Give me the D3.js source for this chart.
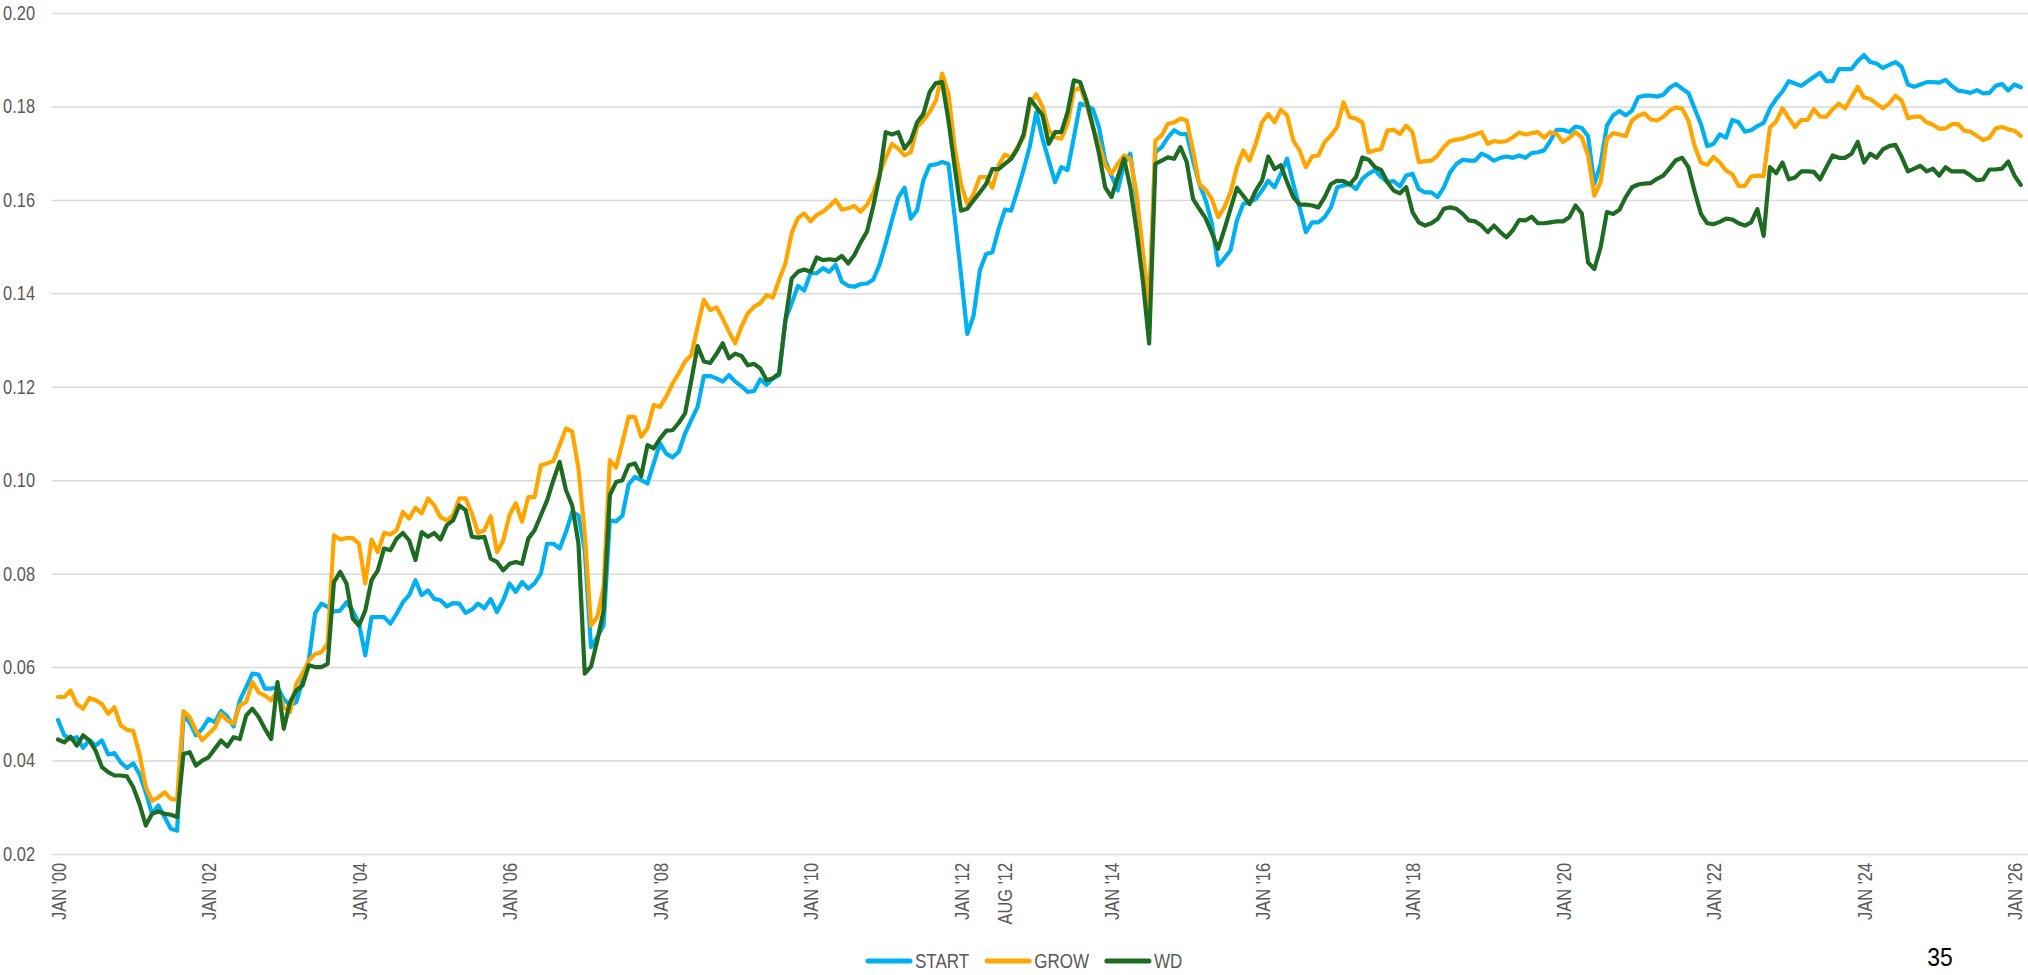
<!DOCTYPE html>
<html>
<head>
<meta charset="utf-8">
<script src="https://cdn.jsdelivr.net/npm/d3@7"></script>
<style>
  body { margin: 0; background: #fff; }
  svg text { font-family: "Liberation Sans Narrow", "Arial Narrow", "Liberation Sans", sans-serif; }
  .grid line { stroke: #d9d9d9; stroke-width: 1.5; }
  .grid .domain { display: none; }
  .xaxis .domain { display: none; }
  .series { fill: none; stroke-width: 4.2; stroke-linejoin: round; stroke-linecap: round; }
</style>
</head>
<body>
<script>

// monthly values, JAN 2000 .. FEB 2026 (one row per year)
var startValues = [
  0.0487,0.0454,0.0446,0.0450,0.0427,0.0444,0.0432,0.0443,0.0413,0.0416,0.0396,0.0384,
  0.0394,0.0371,0.0332,0.0286,0.0304,0.0279,0.0254,0.0250,0.0496,0.0482,0.0454,0.0468,
  0.0489,0.0482,0.0506,0.0494,0.0473,0.0529,0.0557,0.0586,0.0584,0.0554,0.0554,0.0557,
  0.0532,0.0518,0.0525,0.0571,0.0615,0.0715,0.0736,0.0729,0.0719,0.0721,0.0739,0.0721,
  0.0693,0.0625,0.0707,0.0707,0.0707,0.0693,0.0714,0.0739,0.0754,0.0786,0.0754,0.0764,
  0.0746,0.0743,0.0730,0.0737,0.0736,0.0716,0.0723,0.0736,0.0726,0.0746,0.0718,0.0743,
  0.0779,0.0761,0.0782,0.0768,0.0779,0.0800,0.0864,0.0864,0.0854,0.0889,0.0932,0.0925,
  0.0850,0.0643,0.0664,0.0689,0.0914,0.0912,0.0924,0.0991,0.1007,0.1000,0.0993,0.1036,
  0.1079,0.1057,0.1049,0.1061,0.1100,0.1129,0.1157,0.1223,0.1223,0.1218,0.1211,0.1225,
  0.1211,0.1201,0.1189,0.1191,0.1216,0.1204,0.1218,0.1225,0.1343,0.1379,0.1416,0.1406,
  0.1443,0.1443,0.1454,0.1446,0.1461,0.1425,0.1416,0.1414,0.1420,0.1421,0.1429,0.1461,
  0.1507,0.1557,0.1605,0.1626,0.1560,0.1578,0.1642,0.1674,0.1676,0.1681,0.1677,0.1563,
  0.1441,0.1313,0.1352,0.1449,0.1484,0.1488,0.1538,0.1579,0.1577,0.1620,0.1666,0.1716,
  0.1788,0.1731,0.1684,0.1638,0.1670,0.1664,0.1734,0.1806,0.1802,0.1795,0.1756,0.1684,
  0.1652,0.1620,0.1677,0.1699,0.1600,0.1480,0.1370,0.1702,0.1713,0.1734,0.1749,0.1741,
  0.1741,0.1684,0.1634,0.1600,0.1550,0.1460,0.1475,0.1493,0.1556,0.1591,0.1595,0.1602,
  0.1620,0.1641,0.1627,0.1656,0.1688,0.1634,0.1584,0.1531,0.1552,0.1552,0.1563,0.1584,
  0.1627,0.1631,0.1634,0.1623,0.1645,0.1656,0.1664,0.1649,0.1638,0.1640,0.1629,0.1652,
  0.1656,0.1623,0.1616,0.1616,0.1606,0.1627,0.1659,0.1677,0.1686,0.1684,0.1684,0.1699,
  0.1693,0.1684,0.1690,0.1693,0.1690,0.1695,0.1690,0.1700,0.1702,0.1706,0.1727,0.1750,
  0.1750,0.1745,0.1757,0.1754,0.1736,0.1634,0.1677,0.1759,0.1781,0.1790,0.1781,0.1791,
  0.1820,0.1823,0.1823,0.1821,0.1825,0.1840,0.1848,0.1838,0.1829,0.1795,0.1762,0.1715,
  0.1720,0.1740,0.1733,0.1771,0.1766,0.1746,0.1749,0.1758,0.1765,0.1796,0.1816,0.1832,
  0.1854,0.1849,0.1844,0.1854,0.1863,0.1872,0.1854,0.1854,0.1880,0.1880,0.1880,0.1897,
  0.1910,0.1895,0.1892,0.1882,0.1889,0.1895,0.1885,0.1847,0.1842,0.1847,0.1852,0.1852,
  0.1851,0.1857,0.1844,0.1834,0.1832,0.1829,0.1835,0.1828,0.1829,0.1844,0.1848,0.1834,
  0.1847,0.1841
];

var growValues = [
  0.0536,0.0536,0.0550,0.0521,0.0511,0.0534,0.0529,0.0521,0.0500,0.0514,0.0475,0.0466,
  0.0463,0.0414,0.0343,0.0314,0.0321,0.0332,0.0318,0.0316,0.0506,0.0493,0.0464,0.0444,
  0.0457,0.0470,0.0500,0.0486,0.0479,0.0518,0.0525,0.0568,0.0546,0.0539,0.0529,0.0550,
  0.0514,0.0504,0.0564,0.0586,0.0614,0.0628,0.0632,0.0650,0.0882,0.0873,0.0876,0.0876,
  0.0864,0.0779,0.0873,0.0846,0.0887,0.0884,0.0893,0.0932,0.0918,0.0941,0.0929,0.0961,
  0.0946,0.0921,0.0914,0.0925,0.0961,0.0961,0.0929,0.0887,0.0893,0.0923,0.0846,0.0871,
  0.0925,0.0951,0.0911,0.0964,0.0964,0.1032,0.1036,0.1041,0.1075,0.1111,0.1104,0.1025,
  0.0886,0.0689,0.0707,0.0771,0.1043,0.1027,0.1080,0.1136,0.1135,0.1093,0.1111,0.1161,
  0.1157,0.1179,0.1207,0.1229,0.1254,0.1268,0.1329,0.1386,0.1364,0.1370,0.1346,0.1318,
  0.1293,0.1329,0.1357,0.1371,0.1379,0.1396,0.1391,0.1429,0.1464,0.1529,0.1561,0.1571,
  0.1554,0.1568,0.1575,0.1586,0.1600,0.1579,0.1582,0.1587,0.1575,0.1589,0.1614,0.1655,
  0.1690,0.1720,0.1710,0.1695,0.1702,0.1756,0.1770,0.1788,0.1813,0.1870,0.1827,0.1713,
  0.1634,0.1591,0.1613,0.1649,0.1649,0.1626,0.1674,0.1697,0.1690,0.1713,0.1734,0.1806,
  0.1826,0.1799,0.1749,0.1734,0.1731,0.1763,0.1834,0.1841,0.1806,0.1756,0.1720,0.1674,
  0.1656,0.1677,0.1695,0.1688,0.1613,0.1491,0.1363,0.1727,0.1738,0.1763,0.1766,0.1774,
  0.1770,0.1706,0.1634,0.1622,0.1602,0.1563,0.1584,0.1617,0.1670,0.1706,0.1684,0.1720,
  0.1766,0.1784,0.1766,0.1793,0.1781,0.1727,0.1706,0.1670,0.1693,0.1695,0.1724,0.1738,
  0.1756,0.1809,0.1777,0.1774,0.1766,0.1702,0.1706,0.1709,0.1749,0.1750,0.1741,0.1759,
  0.1745,0.1681,0.1683,0.1684,0.1695,0.1713,0.1726,0.1729,0.1731,0.1736,0.1740,0.1745,
  0.1720,0.1726,0.1724,0.1726,0.1734,0.1744,0.1740,0.1743,0.1745,0.1733,0.1745,0.1741,
  0.1724,0.1733,0.1745,0.1734,0.1695,0.1609,0.1638,0.1731,0.1743,0.1740,0.1736,0.1770,
  0.1780,0.1785,0.1772,0.1770,0.1778,0.1791,0.1798,0.1795,0.1770,0.1715,0.1680,0.1675,
  0.1692,0.1680,0.1663,0.1655,0.1630,0.1630,0.1650,0.1652,0.1651,0.1755,0.1768,0.1796,
  0.1775,0.1756,0.1771,0.1771,0.1794,0.1778,0.1778,0.1794,0.1806,0.1796,0.1819,0.1842,
  0.1819,0.1816,0.1806,0.1796,0.1806,0.1823,0.1813,0.1775,0.1778,0.1778,0.1766,0.1761,
  0.1752,0.1753,0.1762,0.1762,0.1748,0.1746,0.1737,0.1728,0.1733,0.1753,0.1756,0.1751,
  0.1748,0.1737
];

var wdValues = [
  0.0445,0.0439,0.0451,0.0432,0.0454,0.0443,0.0421,0.0386,0.0375,0.0368,0.0368,0.0366,
  0.0343,0.0307,0.0261,0.0286,0.0291,0.0286,0.0284,0.0279,0.0414,0.0418,0.0389,0.0400,
  0.0407,0.0425,0.0443,0.0430,0.0450,0.0446,0.0496,0.0511,0.0493,0.0468,0.0446,0.0568,
  0.0468,0.0525,0.0550,0.0561,0.0604,0.0600,0.0600,0.0607,0.0782,0.0804,0.0779,0.0704,
  0.0689,0.0721,0.0786,0.0807,0.0854,0.0850,0.0875,0.0887,0.0871,0.0829,0.0889,0.0879,
  0.0887,0.0873,0.0904,0.0914,0.0946,0.0936,0.0879,0.0877,0.0879,0.0832,0.0825,0.0807,
  0.0821,0.0825,0.0821,0.0875,0.0893,0.0925,0.0957,0.1000,0.1039,0.0979,0.0946,0.0864,
  0.0586,0.0601,0.0657,0.0721,0.0968,0.0996,0.1000,0.1032,0.1036,0.1009,0.1075,0.1068,
  0.1089,0.1106,0.1107,0.1123,0.1143,0.1214,0.1287,0.1254,0.1251,0.1270,0.1293,0.1261,
  0.1271,0.1266,0.1246,0.1249,0.1239,0.1214,0.1218,0.1229,0.1343,0.1432,0.1446,0.1451,
  0.1446,0.1477,0.1471,0.1473,0.1471,0.1480,0.1464,0.1482,0.1509,0.1532,0.1586,0.1650,
  0.1745,0.1740,0.1745,0.1710,0.1727,0.1766,0.1784,0.1831,0.1850,0.1852,0.1770,0.1670,
  0.1577,0.1581,0.1599,0.1616,0.1634,0.1666,0.1666,0.1677,0.1688,0.1709,0.1741,0.1816,
  0.1799,0.1781,0.1720,0.1745,0.1745,0.1788,0.1856,0.1852,0.1813,0.1759,0.1700,0.1627,
  0.1606,0.1649,0.1688,0.1627,0.1534,0.1427,0.1293,0.1677,0.1684,0.1691,0.1688,0.1713,
  0.1681,0.1602,0.1581,0.1561,0.1529,0.1495,0.1537,0.1582,0.1626,0.1609,0.1591,0.1620,
  0.1641,0.1693,0.1666,0.1674,0.1638,0.1606,0.1590,0.1590,0.1588,0.1584,0.1606,0.1634,
  0.1641,0.1640,0.1633,0.1649,0.1691,0.1686,0.1670,0.1664,0.1638,0.1620,0.1614,0.1627,
  0.1574,0.1552,0.1545,0.1550,0.1559,0.1581,0.1584,0.1581,0.1570,0.1556,0.1554,0.1545,
  0.1531,0.1545,0.1531,0.1520,0.1535,0.1557,0.1556,0.1564,0.1550,0.1550,0.1552,0.1554,
  0.1554,0.1563,0.1588,0.1571,0.1466,0.1452,0.1499,0.1574,0.1570,0.1579,0.1606,0.1627,
  0.1633,0.1635,0.1636,0.1645,0.1652,0.1668,0.1685,0.1690,0.1670,0.1618,0.1570,0.1550,
  0.1548,0.1553,0.1560,0.1558,0.1550,0.1545,0.1552,0.1580,0.1523,0.1670,0.1657,0.1680,
  0.1644,0.1648,0.1661,0.1661,0.1660,0.1644,0.1670,0.1695,0.1690,0.1690,0.1699,0.1724,
  0.1680,0.1699,0.1690,0.1708,0.1715,0.1718,0.1692,0.1661,0.1667,0.1673,0.1661,0.1667,
  0.1652,0.1670,0.1661,0.1661,0.1661,0.1652,0.1642,0.1644,0.1665,0.1665,0.1667,0.1682,
  0.1652,0.1632
];

// x ticks: month index since JAN 2000 and their labels
var tickMonths = [0, 24, 48, 72, 96, 120, 144, 151, 168, 192, 216, 240, 264, 288, 312];
var tickLabels = ["JAN '00", "JAN '02", "JAN '04", "JAN '06", "JAN '08", "JAN '10", "JAN '12",
                  "AUG '12", "JAN '14", "JAN '16", "JAN '18", "JAN '20", "JAN '22", "JAN '24", "JAN '26"];
var yTicks = [0.02, 0.04, 0.06, 0.08, 0.10, 0.12, 0.14, 0.16, 0.18, 0.20];

var seriesNames = ["START", "GROW", "WD"];
var seriesColors = ["#00b0f0", "#ffa500", "#1e6b22"];

(function () {

    var width = 2028,
        height = 975,
        gridLeft = 52,
        plotTop = 13,
        plotBottom = 854,
        narrow = 0.82; // squeeze text, the narrow font is not installed

    var svg = d3.select("body")
        .append("svg")
        .attr("width", width)
        .attr("height", height);

    var x = d3.scaleLinear()
        .domain([0, 312])
        .range([58, 2014.5]);

    var y = d3.scaleLinear()
        .domain([0.02, 0.20])
        .range([plotBottom, plotTop]);

    function squeeze(sel, k) {
        sel.each(function () {
            var len = this.getComputedTextLength();
            d3.select(this)
                .attr("textLength", len * k)
                .attr("lengthAdjust", "spacingAndGlyphs");
        });
    }

    // gridlines + y labels
    var yAxis = d3.axisLeft(y)
        .tickValues(yTicks)
        .tickFormat(d3.format(".2f"))
        .tickSize(-(width - gridLeft))
        .tickPadding(17);

    var grid = svg.append("g")
        .attr("class", "grid")
        .attr("transform", "translate(" + gridLeft + ",0)")
        .call(yAxis);

    grid.selectAll("text")
        .attr("fill", "#595959")
        .style("font-size", "20px")
        .call(squeeze, narrow);

    // x labels, rotated
    var xAxis = d3.axisBottom(x)
        .tickValues(tickMonths)
        .tickFormat(function (d, i) { return tickLabels[i]; })
        .tickSize(0);

    var xg = svg.append("g")
        .attr("class", "xaxis")
        .attr("transform", "translate(0," + plotBottom + ")")
        .call(xAxis);

    xg.selectAll("text")
        .attr("transform", "rotate(-90)")
        .attr("text-anchor", "end")
        .attr("x", -9)
        .attr("y", 0)
        .attr("dy", "0.35em")
        .attr("fill", "#595959")
        .style("font-size", "20px")
        .call(squeeze, narrow);

    // lines
    var allSeries = [startValues, growValues, wdValues];

    var line = d3.line()
        .x(function (d, i) { return x(i); })
        .y(function (d) { return y(d); });

    svg.selectAll(".series")
        .data(allSeries)
        .enter()
        .append("path")
        .attr("class", "series")
        .attr("d", line)
        .style("stroke", function (d, i) { return seriesColors[i]; });

    // legend
    var legend = svg.append("g").attr("class", "legend");
    var lx = 868, ly = 961;

    seriesNames.forEach(function (name, i) {
        legend.append("line")
            .attr("x1", lx).attr("x2", lx + 42)
            .attr("y1", ly).attr("y2", ly)
            .style("stroke", seriesColors[i])
            .style("stroke-width", 5)
            .style("stroke-linecap", "round");
        var t = legend.append("text")
            .attr("x", lx + 47)
            .attr("y", ly)
            .attr("dy", "0.36em")
            .attr("fill", "#595959")
            .style("font-size", "20px")
            .text(name);
        var w = t.node().getComputedTextLength() * 0.85;
        t.attr("textLength", w).attr("lengthAdjust", "spacingAndGlyphs");
        lx = lx + 47 + w + 18;
    });

    // page number
    svg.append("text")
        .attr("x", 1940)
        .attr("y", 966)
        .attr("text-anchor", "middle")
        .attr("fill", "#000")
        .style("font-size", "26px")
        .text("35")
        .call(squeeze, 0.88);

})();
</script>
</body>
</html>
